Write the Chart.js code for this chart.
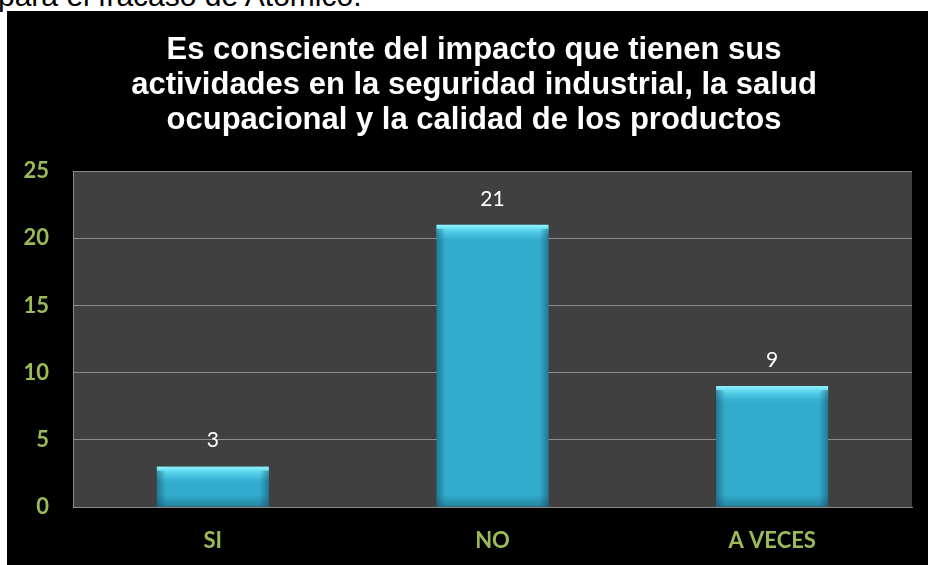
<!DOCTYPE html>
<html><head><meta charset="utf-8">
<script src="https://cdn.jsdelivr.net/npm/chart.js@4"></script>
<style>
html,body{margin:0;padding:0;background:#fff;width:928px;height:565px;overflow:hidden;position:relative}
#top{position:absolute;left:-2px;top:-19px;font:30px "Liberation Sans",Arial,sans-serif;color:#000;white-space:nowrap;line-height:30px}
#box{position:absolute;left:7px;top:11px;width:921px;height:554px;background:#000}
</style></head>
<body>
<div id="top">para el fracaso de Atómico.</div>
<div id="box"><canvas id="c" width="921" height="554"></canvas></div>
<script>
const categories = ['SI', 'NO', 'A VECES'];
const values = [3, 21, 9];
const titleLines = [
  'Es consciente del impacto que tienen sus',
  'actividades en la seguridad industrial, la salud',
  'ocupacional y la calidad de los productos'
];
const yMin = 0, yMax = 25, yStep = 5;

const green = '#9bbb59';
const gridGray = '#8c8c8c';
const tickFont = 'bold 22px Lato, "Open Sans", sans-serif';

const plotBg = {
  id: 'plotBg',
  beforeDraw(chart) {
    const {ctx, chartArea: a} = chart;
    ctx.save();
    ctx.fillStyle = '#404040';
    ctx.fillRect(a.left, a.top, a.right - a.left, a.bottom - a.top);
    ctx.restore();
  }
};

const yLabels = {
  id: 'yLabels',
  afterDraw(chart) {
    const ctx = chart.ctx;
    const s = chart.scales.y;
    ctx.save();
    ctx.fillStyle = green;
    ctx.font = tickFont;
    ctx.textAlign = 'right';
    ctx.textBaseline = 'middle';
    s.ticks.forEach(t => {
      ctx.fillText(String(t.value), s.right - 24, s.getPixelForValue(t.value));
    });
    ctx.restore();
  }
};

const barShade = {
  id: 'barShade',
  afterDatasetsDraw(chart) {
    const ctx = chart.ctx;
    const meta = chart.getDatasetMeta(0);
    ctx.save();
    meta.data.forEach(el => {
      const l = el.x - el.width / 2, r = el.x + el.width / 2, t = el.y, b = el.base;
      const h = b - t, w = r - l;
      const hh = Math.min(16, h);
      let g = ctx.createLinearGradient(0, t, 0, t + hh);
      g.addColorStop(0, 'rgba(150,245,255,1)');
      g.addColorStop(0.3, 'rgba(110,232,250,0.75)');
      g.addColorStop(1, 'rgba(80,210,240,0)');
      ctx.fillStyle = g;
      ctx.fillRect(l, t, w, hh);
      g = ctx.createLinearGradient(l, 0, l + 9, 0);
      g.addColorStop(0, 'rgba(10,60,85,0.45)');
      g.addColorStop(1, 'rgba(10,60,85,0)');
      ctx.fillStyle = g;
      ctx.fillRect(l, t + 4, 9, h - 4);
      g = ctx.createLinearGradient(r, 0, r - 9, 0);
      g.addColorStop(0, 'rgba(10,60,85,0.45)');
      g.addColorStop(1, 'rgba(10,60,85,0)');
      ctx.fillStyle = g;
      ctx.fillRect(r - 9, t + 4, 9, h - 4);
      const bh = Math.min(12, h);
      g = ctx.createLinearGradient(0, b, 0, b - bh);
      g.addColorStop(0, 'rgba(10,60,85,0.35)');
      g.addColorStop(1, 'rgba(10,60,85,0)');
      ctx.fillStyle = g;
      ctx.fillRect(l, b - bh, w, bh);
    });
    ctx.restore();
  }
};

const valueLabels = {
  id: 'valueLabels',
  afterDatasetsDraw(chart) {
    const ctx = chart.ctx;
    const meta = chart.getDatasetMeta(0);
    ctx.save();
    ctx.fillStyle = '#ffffff';
    ctx.font = '21px Lato, "Open Sans", sans-serif';
    ctx.textAlign = 'center';
    ctx.textBaseline = 'middle';
    meta.data.forEach((el, i) => {
      ctx.fillText(String(values[i]), el.x, el.y - 26);
    });
    ctx.restore();
  }
};

new Chart(document.getElementById('c'), {
  type: 'bar',
  data: {
    labels: categories,
    datasets: [{
      data: values,
      backgroundColor: '#33abcc',
      borderWidth: 0,
      categoryPercentage: 1,
      barPercentage: 0.40
    }]
  },
  options: {
    responsive: false,
    animation: false,
    events: [],
    layout: { padding: { left: 29, right: 16, top: 0, bottom: 0 } },
    plugins: {
      legend: { display: false },
      tooltip: { enabled: false },
      title: {
        display: true,
        text: titleLines,
        color: '#ffffff',
        font: { family: '"Liberation Sans", Arial, sans-serif', size: 31, weight: 'bold', lineHeight: 1.13 },
        padding: { top: 22, bottom: 33 }
      }
    },
    scales: {
      x: {
        grid: { display: false },
        border: { display: true, color: gridGray, width: 1 },
        ticks: { color: green, font: { family: 'Lato, "Open Sans", sans-serif', size: 22, weight: 'bold' }, padding: 13 },
        afterFit(s) { s.height = 58; }
      },
      y: {
        min: yMin, max: yMax,
        ticks: { stepSize: yStep, display: false },
        grid: { color: gridGray, lineWidth: 1, drawTicks: false },
        border: { display: true, color: gridGray, width: 1 },
        afterFit(s) { s.width = 37; }
      }
    }
  },
  plugins: [plotBg, barShade, valueLabels, yLabels]
});
</script>
</body></html>
